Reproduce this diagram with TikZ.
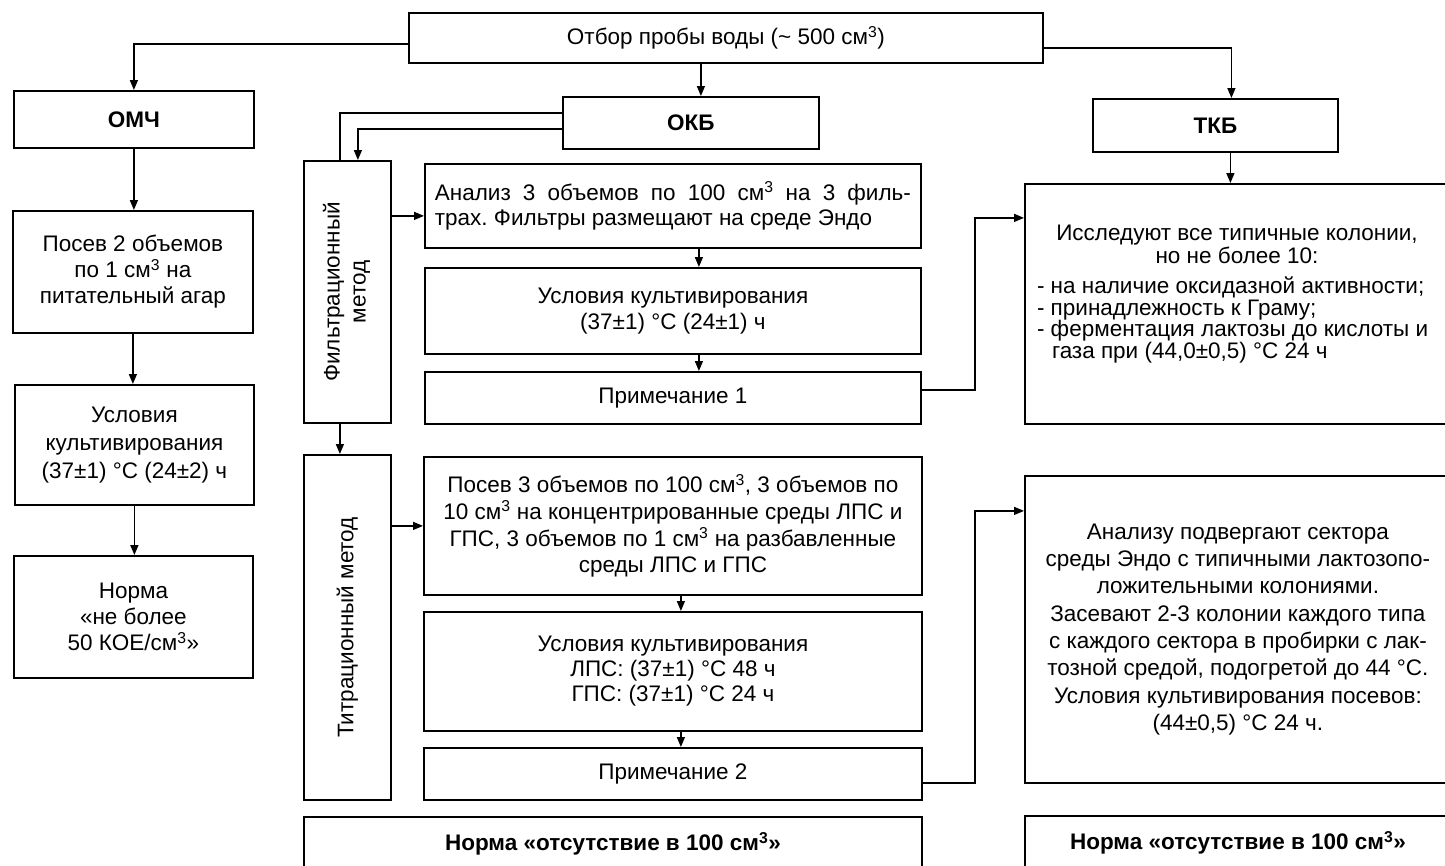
\documentclass[tikz,border=0pt]{standalone}
\usepackage{fontspec}
\usepackage{graphicx}
\setmainfont{Liberation Sans}
\usetikzlibrary{arrows.meta,calc}
\frenchspacing
\tikzset{
  box/.style={draw, line width=1.8pt, inner sep=0pt, anchor=north west, align=center,
    font=\fontsize{22.5}{26}\selectfont},
  txt/.style={inner sep=0pt, font=\fontsize{22.5}{21.5}\selectfont},
  conn/.style={line width=1.5pt},
  arr/.style={conn, -{Triangle[length=10pt,width=8pt]}},
}
\newcommand{\cmc}{см\textsuperscript{3}}
\begin{document}
\begin{tikzpicture}[x=1pt,y=-1pt]
\useasboundingbox (0,0) rectangle (1445,865);
\clip (0,0) rectangle (1445,865);
\fill[white] (0,0) rectangle (1445,865);

% top
\node[box, minimum width=634pt, minimum height=50pt] (top) at (408,12) {Отбор пробы воды (\textasciitilde{} 500 \cmc)};
% left column
\node[box, minimum width=240pt, minimum height=57pt] (omch) at (13,90) {\textbf{ОМЧ}};
\node[box, minimum width=240pt, minimum height=122pt] (posev1) at (12,210) {Посев 2 объемов\\по 1 \cmc{} на\\питательный агар};
\node[box, minimum width=239pt, minimum height=120pt, font=\fontsize{22.5}{28}\selectfont] (usl1) at (14,384) {Условия\\культивирования\\(37±1) °C (24±2) ч};
\node[box, minimum width=239pt, minimum height=122pt] (norm1) at (13,555) {Норма\\«не более\\50 КОЕ/\cmc»};
% middle column
\node[box, minimum width=256pt, minimum height=52pt] (okb) at (562,96) {\textbf{ОКБ}};
\node[box, minimum width=87pt, minimum height=262pt] (filt) at (303,160) {\rotatebox{90}{\begin{tabular}{@{}c@{}}Фильтрационный\\метод\end{tabular}}};
\node[box, minimum width=496pt, minimum height=84pt, align=left, font=\fontsize{22.5}{25}\selectfont] (anal) at (424,163) {\makebox[476pt][s]{Анализ 3 объемов по 100 \cmc{} на 3 филь-}\\трах. Фильтры размещают на среде Эндо};
\node[box, minimum width=496pt, minimum height=86pt] (usl2) at (424,267) {Условия культивирования\\(37±1) °C (24±1) ч};
\node[box, minimum width=496pt, minimum height=52pt] (prim1) at (424,371) {Примечание 1};
\node[box, minimum width=87pt, minimum height=345pt] (titr) at (303,454) {\rotatebox{90}{Титрационный метод}};
\node[box, minimum width=498pt, minimum height=138pt, font=\fontsize{22.5}{26.7}\selectfont] (posev3) at (423,456) {Посев 3 объемов по 100 \cmc, 3 объемов по\\10 \cmc{} на концентрированные среды ЛПС и\\ГПС, 3 объемов по 1 \cmc{} на разбавленные\\среды ЛПС и ГПС};
\node[box, minimum width=498pt, minimum height=119pt, font=\fontsize{22.5}{25}\selectfont] (usl3) at (423,611) {Условия культивирования\\ЛПС: (37±1) °C 48 ч\\ГПС: (37±1) °C 24 ч};
\node[box, minimum width=498pt, minimum height=52pt] (prim2) at (423,747) {Примечание 2};
\node[box, minimum width=618pt, minimum height=54pt] (norm2) at (303,816) {\textbf{Норма «отсутствие в 100 \cmc»}};
% right column
\node[box, minimum width=245pt, minimum height=53pt] (tkb) at (1092,98) {\textbf{ТКБ}};
\node[box, minimum width=426pt, minimum height=240pt] (right1) at (1024,183) {};
\node[txt, align=left] (right1t) at (1237,294) {\makebox[400pt]{Исследуют все типичные колонии,}\\[1pt]\makebox[400pt]{но не более 10:}\\[9pt]- на наличие оксидазной активности;\\- принадлежность к Граму;\\- ферментация лактозы до кислоты и\\\hspace*{15pt}газа при (44,0±0,5) °C 24 ч};
\node[box, minimum width=426pt, minimum height=307pt, font=\fontsize{22.5}{27.3}\selectfont] (right2) at (1024,475) {Анализу подвергают сектора\\среды Эндо с типичными лактозопо-\\ложительными колониями.\\Засевают 2-3 колонии каждого типа\\с каждого сектора в пробирки с лак-\\тозной средой, подогретой до 44 °C.\\Условия культивирования посевов:\\(44±0,5) °C 24 ч.};
\node[box, minimum width=426pt, minimum height=54pt] (norm3) at (1024,815) {\textbf{Норма «отсутствие в 100 \cmc»}};

% connectors
\draw[arr] ([yshift=-6pt]top.west) -| (omch.north);
\draw[arr] ([xshift=-25pt]top.south) -- ([xshift=10pt]okb.north);
\draw[arr] ([yshift=-10pt]top.east) -| ([xshift=16pt]tkb.north);
\draw[arr] ([xshift=15pt]tkb.south) -- ([xshift=15pt]tkb.south |- right1.north);

\draw[arr] (omch.south) -- (omch.south |- posev1.north);
\draw[arr] (posev1.south) -- (posev1.south |- usl1.north);
\draw[arr] (usl1.south) -- (usl1.south |- norm1.north);

\draw[conn] ([yshift=10pt]okb.west) -| ([xshift=-7.5pt]filt.north);
\draw[arr] ([yshift=-6pt]okb.west) -| ([xshift=10.5pt]filt.north);
\draw[arr] ([xshift=-7.5pt]filt.south) -- ([xshift=-7.5pt]titr.north);
\coordinate (fa) at ($(anal.west)+(0,10)$);
\draw[arr] (fa -| filt.east) -- (fa);
\draw[arr] ([xshift=26pt]anal.south) -- ([xshift=26pt]usl2.north);
\draw[arr] ([xshift=26pt]usl2.south) -- ([xshift=26pt]prim1.north);
\draw[arr] ([yshift=8pt]prim1.east) -- ++(53,0) |- ([yshift=86pt]right1.west);

\draw[arr] (titr.east |- posev3.west) -- (posev3.west);
\draw[arr] ([xshift=8pt]posev3.south) -- ([xshift=8pt]usl3.north);
\draw[arr] ([xshift=8pt]usl3.south) -- ([xshift=8pt]prim2.north);
\draw[arr] ([yshift=-9pt]prim2.east) -- ++(52,0) |- ([yshift=118.5pt]right2.west);
\end{tikzpicture}
\end{document}
